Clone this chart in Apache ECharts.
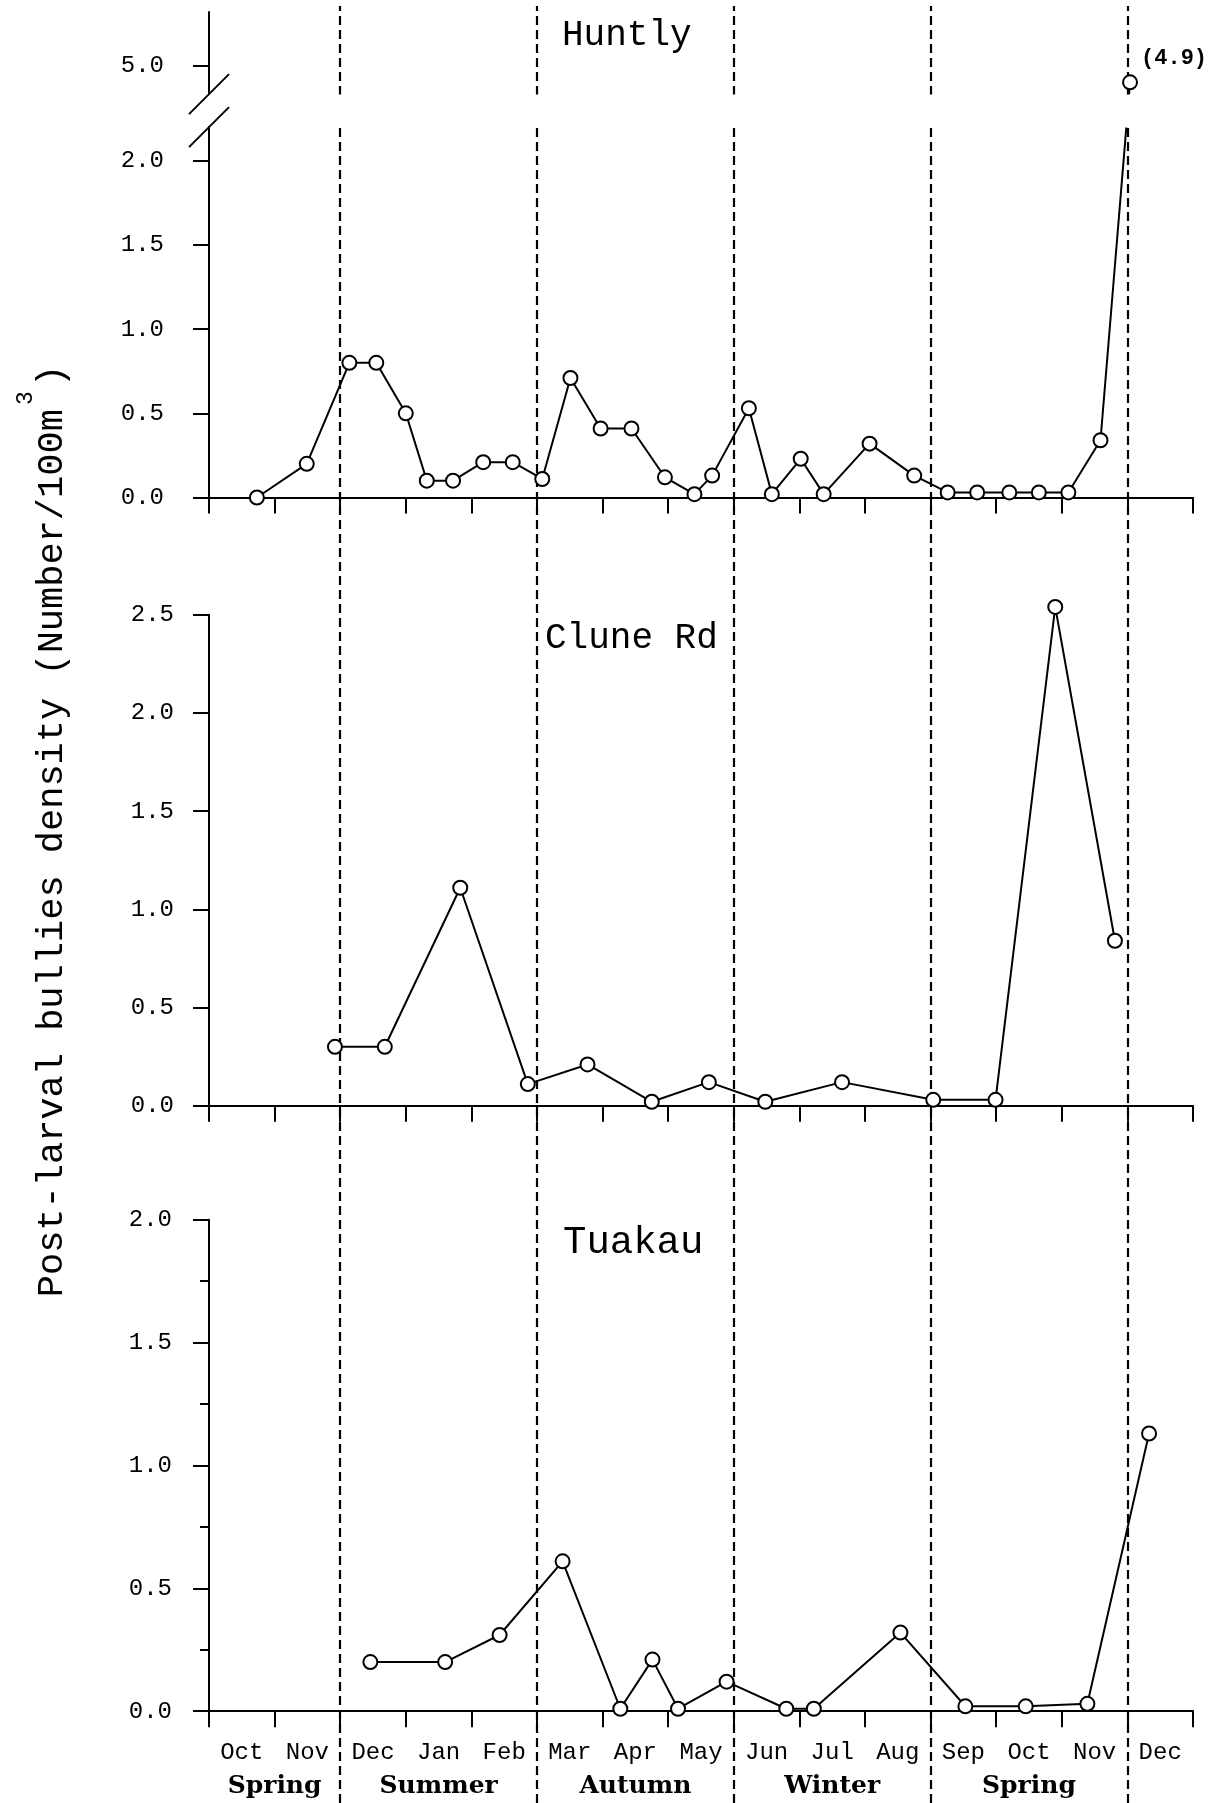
<!DOCTYPE html>
<html>
<head>
<meta charset="utf-8">
<script src="https://cdn.jsdelivr.net/npm/echarts@6/dist/echarts.min.js"></script>
<style>
  html, body { margin: 0; padding: 0; background: #fff; }
  #chart { width: 1212px; height: 1803px; }
</style>
</head>
<body>
<div id="chart"></div>
<script type="text/javascript">
	// month axis: 0 = start of Oct, one unit per month
	var months = ['Oct','Nov','Dec','Jan','Feb','Mar','Apr','May','Jun','Jul','Aug','Sep','Oct','Nov','Dec'];
	var seasons = ['Spring','Summer','Autumn','Winter','Spring'];
	var seasonCenters = [1, 3.5, 6.5, 9.5, 12.5];
	var seasonBounds = [2, 5, 8, 11, 14];

	// Huntly
	var huntlyX = [0.73, 1.49, 2.14, 2.55, 3.0, 3.32, 3.72, 4.18, 4.63, 5.08, 5.51, 5.97, 6.44, 6.95, 7.40,
		7.67, 8.23, 8.58, 9.02, 9.37, 10.07, 10.75, 11.26, 11.71, 12.20, 12.65, 13.10, 13.59, 14.04];
	var huntlyY = [0, 0.2, 0.8, 0.8, 0.5, 0.1, 0.1, 0.21, 0.21, 0.11, 0.71, 0.41, 0.41, 0.12, 0.02,
		0.13, 0.53, 0.02, 0.23, 0.02, 0.32, 0.13, 0.03, 0.03, 0.03, 0.03, 0.03, 0.34, 4.9];
	var huntlyTicks = [0, 0.5, 1.0, 1.5, 2.0, 5.0];

	// Clune Rd
	var cluneX = [1.92, 2.68, 3.83, 4.86, 5.77, 6.75, 7.62, 8.48, 9.65, 11.04, 11.99, 12.90, 13.81];
	var cluneY = [0.3, 0.3, 1.11, 0.11, 0.21, 0.02, 0.12, 0.02, 0.12, 0.03, 0.03, 2.54, 0.84];

	// Tuakau
	var tuakauX = [2.46, 3.60, 4.43, 5.39, 6.27, 6.76, 7.15, 7.89, 8.80, 9.22, 10.54, 11.53, 12.45, 13.39, 14.33];
	var tuakauY = [0.2, 0.2, 0.31, 0.61, 0.01, 0.21, 0.01, 0.12, 0.01, 0.01, 0.32, 0.02, 0.02, 0.03, 1.13];

	var mono = 'Liberation Mono';
	var black = '#000';

	function pairs(xs, ys) {
		return xs.map(function (x, i) { return [x, ys[i]]; });
	}
	function range(n) {
		var a = [];
		for (var i = 0; i <= n; i++) a.push(i);
		return a;
	}

	var huntlyData = pairs(huntlyX, huntlyY);
	// the off-scale point carries its value as a label
	var last = huntlyData.length - 1;
	huntlyData[last] = {
		value: huntlyData[last],
		label: {
			show: true, position: 'right', distance: 3, offset: [0, -24],
			formatter: function (p) { return '(' + p.value[1].toFixed(1) + ')'; },
			fontFamily: mono, fontWeight: 'bold', fontSize: 22, color: black
		}
	};

	function monthAxis(grid, withLabels) {
		return {
			type: 'value', gridIndex: grid, min: 0, max: 15, interval: 1,
			splitLine: { show: false },
			axisLine: { onZero: false, lineStyle: { color: black, width: 2 } },
			axisTick: { length: 16, customValues: range(15), lineStyle: { color: black, width: 2 } },
			axisLabel: withLabels ? {
				customValues: months.map(function (m, i) { return i + 0.5; }),
				formatter: function (v) { return months[Math.floor(v)]; },
				margin: 29, fontFamily: mono, fontSize: 24, color: black
			} : { show: false }
		};
	}

	function densityAxis(grid, max, margin) {
		return {
			type: 'value', gridIndex: grid, min: 0, max: max, interval: 0.5,
			splitLine: { show: false },
			axisLine: { onZero: false, lineStyle: { color: black, width: 2 } },
			axisTick: { length: 16, lineStyle: { color: black, width: 2 } },
			axisLabel: {
				margin: margin, fontFamily: mono, fontSize: 24, color: black,
				formatter: function (v) { return v.toFixed(1); }
			}
		};
	}

	function siteSeries(grid, data) {
		return {
			type: 'line', xAxisIndex: grid, yAxisIndex: grid, data: data,
			symbol: 'circle', symbolSize: 14, clip: false,
			lineStyle: { color: black, width: 2 },
			itemStyle: { color: '#fff', borderColor: black, borderWidth: 2 },
			z: 5
		};
	}

	var yHuntly = densityAxis(0, 5.32, 45);
	yHuntly.breaks = [{ start: 2.2, end: 4.83, gap: '6.8%' }];
	yHuntly.breakArea = {
		show: true,
		itemStyle: { color: '#fff', opacity: 1, borderWidth: 0, borderColor: '#fff' },
		zigzagAmplitude: 0,
		expandOnClick: false
	};
	yHuntly.axisTick.customValues = huntlyTicks;
	yHuntly.axisLabel.customValues = huntlyTicks;

	var yTuakau = densityAxis(2, 2.0, 37);
	yTuakau.minorTick = { show: true, splitNumber: 2, length: 9, lineStyle: { color: black, width: 2 } };

	var seasonAxis = {
		type: 'value', gridIndex: 2, min: 0, max: 15, position: 'bottom',
		splitLine: { show: false }, axisLine: { show: false }, axisTick: { show: false },
		axisLabel: {
			customValues: seasonCenters,
			formatter: function (v) { return seasons[seasonCenters.indexOf(v)]; },
			margin: 63, fontFamily: 'DejaVu Serif', fontWeight: 'bold', fontSize: 25, color: black
		}
	};

	var titleStyle = { fontFamily: mono, fontSize: 36, fontWeight: 'normal', color: black };

	// y-axis title, monospaced so the superscript slot can be found by character count
	var yTitle = 'Post-larval bullies density (Number/100m )';
	var yTitleSize = 37;
	var yTitleX = 52, yTitleY = 831;
	var adv = 0.6 * yTitleSize;
	var supSlot = yTitle.indexOf('m )') + 1;
	var supY = yTitleY + adv * yTitle.length / 2 - adv * (supSlot + 0.5);

	var myChart = echarts.init(document.getElementById('chart'), null, { renderer: 'canvas' });

	myChart.setOption({
		animation: false,
		backgroundColor: '#fff',
		title: [
			{ text: 'Huntly', left: 562, top: 17, padding: 0, textStyle: titleStyle },
			{ text: 'Clune Rd', left: 545, top: 620, padding: 0, textStyle: titleStyle },
			{ text: 'Tuakau', left: 563, top: 1223, padding: 0,
				textStyle: { fontFamily: mono, fontSize: 39, fontWeight: 'normal', color: black } }
		],
		grid: [
			{ left: 209, right: 19, top: 11.6, height: 485.9 },
			{ left: 209, right: 19, top: 614.8, height: 490.9 },
			{ left: 209, right: 19, top: 1219.7, height: 491.5 },
			{ left: 209, right: 19, top: 6, bottom: 0 }
		],
		xAxis: [
			monthAxis(0, false),
			monthAxis(1, false),
			monthAxis(2, true),
			{ type: 'value', gridIndex: 3, min: 0, max: 15, show: false },
			seasonAxis
		],
		yAxis: [
			yHuntly,
			densityAxis(1, 2.5, 35),
			yTuakau,
			{ type: 'value', gridIndex: 3, min: 0, max: 1, show: false }
		],
		graphic: [{
			id: 'ytitle', type: 'text', x: yTitleX, y: yTitleY, rotation: Math.PI / 2,
			style: {
				text: yTitle, fontFamily: mono, fontSize: yTitleSize, fontWeight: 'normal', fill: black,
				align: 'center', verticalAlign: 'middle'
			}
		}, {
			id: 'ysup', type: 'text', x: yTitleX - 26, y: supY, rotation: Math.PI / 2,
			style: {
				text: '3', fontFamily: mono, fontSize: 23, fontWeight: 'normal', fill: black,
				align: 'center', verticalAlign: 'middle'
			}
		}],
		series: [
			siteSeries(0, huntlyData),
			siteSeries(1, pairs(cluneX, cluneY)),
			siteSeries(2, pairs(tuakauX, tuakauY)),
			{
				// season boundaries run through the whole figure
				type: 'line', xAxisIndex: 3, yAxisIndex: 3, data: [], z: 20,
				markLine: {
					silent: true, symbol: 'none', label: { show: false },
					lineStyle: { color: black, width: 2.2, type: [9, 5] },
					data: seasonBounds.map(function (b) { return { xAxis: b }; })
				}
			}
		]
	});

	// axis-break slashes on the Huntly y axis
	var ax = myChart.convertToPixel({ xAxisIndex: 0 }, 0);
	var yLo = myChart.convertToPixel({ yAxisIndex: 0 }, yHuntly.breaks[0].start);
	var yHi = myChart.convertToPixel({ yAxisIndex: 0 }, yHuntly.breaks[0].end);
	myChart.setOption({
		graphic: [
			{ id: 'slashHi', type: 'line', z: 300, shape: { x1: ax - 20, y1: yHi + 20, x2: ax + 20, y2: yHi - 20 },
				style: { stroke: black, lineWidth: 2 } },
			{ id: 'slashLo', type: 'line', z: 300, shape: { x1: ax - 20, y1: yLo + 20, x2: ax + 20, y2: yLo - 20 },
				style: { stroke: black, lineWidth: 2 } }
		]
	});
</script>
</body>
</html>
